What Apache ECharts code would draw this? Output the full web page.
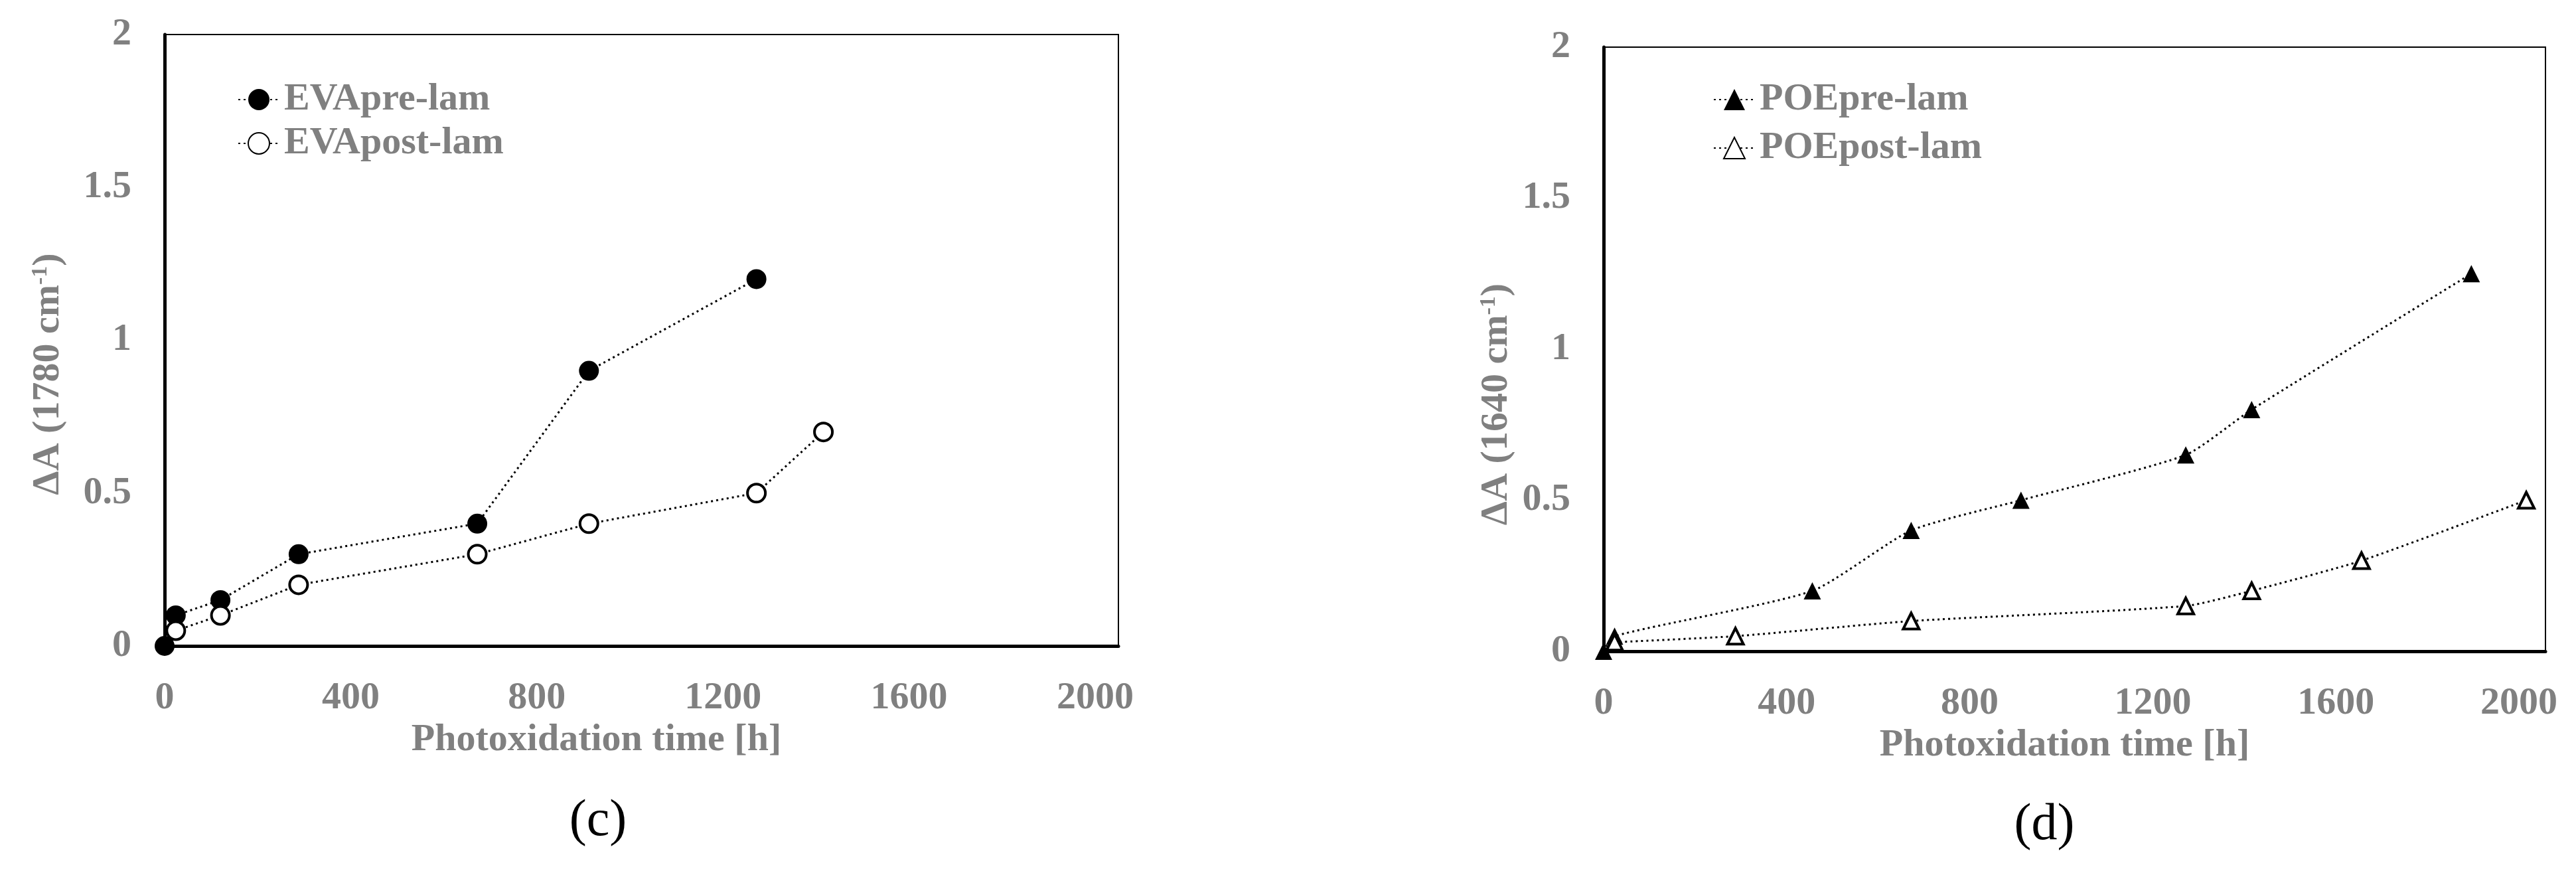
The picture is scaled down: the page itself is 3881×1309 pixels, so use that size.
<!DOCTYPE html>
<html>
<head>
<meta charset="utf-8">
<script src="https://cdn.jsdelivr.net/npm/echarts@6/dist/echarts.min.js"></script>
<style>
  html, body { margin: 0; padding: 0; background: #fff; }
  #main { width: 3881px; height: 1309px; }
</style>
</head>
<body>
<div id="main"></div>
<script>
// EVA (c)
var evaPreTime = [0, 24, 120, 288, 672, 912, 1272];
var evaPreDA = [0, 0.1, 0.15, 0.3, 0.4, 0.9, 1.2];
var evaPostTime = [24, 120, 288, 672, 912, 1272, 1416];
var evaPostDA = [0.05, 0.1, 0.2, 0.3, 0.4, 0.5, 0.7];
// POE (d)
var poePreTime = [0, 24, 456, 672, 912, 1272, 1416, 1896];
var poePreDA = [0, 0.05, 0.2, 0.4, 0.5, 0.65, 0.8, 1.25];
var poePostTime = [24, 288, 672, 1272, 1416, 1656, 2016];
var poePostDA = [0.03, 0.05, 0.1, 0.15, 0.2, 0.3, 0.5];

var yTicks = ['0', '0.5', '1', '1.5', '2'];

function pairs(xs, ys) {
    return xs.map(function (x, i) { return [x, ys[i]]; });
}

var grey = '#808080';
var font = 'Liberation Serif';
var labelStyle = { color: grey, fontFamily: font, fontWeight: 'bold', fontSize: 58 };
var dots = { color: '#000', width: 3, type: [3, 5] };

function xAxisFor(grid, max, nameGap, shift) {
    return {
        type: 'value', gridIndex: grid, min: 0, max: max, interval: 400,
        name: 'Photoxidation time [h]', nameLocation: 'middle', nameGap: nameGap,
        nameTextStyle: { color: grey, fontFamily: font, fontWeight: 'bold', fontSize: 58, padding: [0, shift, 0, 0] },
        axisLine: { show: true, lineStyle: { color: '#bfbfbf', width: 3 } },
        axisTick: { show: false },
        splitLine: { show: false },
        axisLabel: Object.assign({
            margin: 50, showMaxLabel: false,
            formatter: function (v) { return String(v); }
        }, labelStyle)
    };
}

function yAxisFor(grid, wave, nameGap, shift) {
    return {
        type: 'value', gridIndex: grid, min: 0, max: 2, interval: 0.5,
        name: 'ΔA (' + wave + ' cm{sup|-1})', nameLocation: 'middle', nameRotate: 90, nameGap: nameGap,
        nameTextStyle: {
            color: grey, fontFamily: font, fontWeight: 'bold', fontSize: 58, padding: [0, shift, 0, 0],
            rich: { sup: { color: grey, fontFamily: font, fontWeight: 'bold', fontSize: 34, verticalAlign: 'top', padding: [0, 0, 24, 0] } }
        },
        axisLine: { show: true, lineStyle: { color: '#bfbfbf', width: 3 } },
        axisTick: { show: false },
        splitLine: { show: false },
        axisLabel: Object.assign({
            margin: 50,
            formatter: function (v) { return yTicks[Math.round(v / 0.5)]; }
        }, labelStyle)
    };
}

function frameX(grid, max) {
    return { type: 'value', gridIndex: grid, position: 'top', min: 0, max: max,
        axisLine: { show: true, lineStyle: { color: '#000', width: 5 } },
        axisTick: { show: false }, axisLabel: { show: false }, splitLine: { show: false } };
}
function frameY(grid) {
    return { type: 'value', gridIndex: grid, position: 'right', min: 0, max: 2,
        axisLine: { show: true, lineStyle: { color: '#000', width: 5 } },
        axisTick: { show: false }, axisLabel: { show: false }, splitLine: { show: false } };
}

function legendFor(names, left, gap) {
    return {
        data: names, orient: 'vertical', left: left, top: 116, itemGap: gap,
        itemWidth: 62, itemHeight: 40, selectedMode: false,
        textStyle: { color: grey, fontFamily: font, fontWeight: 'bold', fontSize: 58, padding: [0, 0, 0, 2] }
    };
}

var filled = { color: '#000' };
var hollow = { color: '#fff', borderColor: '#000', borderWidth: 4 };

var myChart = echarts.init(document.getElementById('main'));
var option = {
    animation: false,
    backgroundColor: '#fff',
    grid: [
        { left: 248, top: 52, width: 1437, height: 921, show: true, borderColor: '#000', borderWidth: 2 },
        { left: 2416, top: 71, width: 1419, height: 910, show: true, borderColor: '#000', borderWidth: 2 }
    ],
    xAxis: [xAxisFor(0, 2050, 112, 136), xAxisFor(1, 2058, 102, 30), frameX(0, 2050), frameX(1, 2058)],
    yAxis: [yAxisFor(0, '1780', 146, 102), yAxisFor(1, '1640', 132, 166), frameY(0), frameY(1)],
    legend: [
        legendFor(['EVApre-lam', 'EVApost-lam'], 353, 8),
        legendFor(['POEpre-lam', 'POEpost-lam'], 2576, 15)
    ],
    series: [
        { name: 'EVApre-lam', type: 'line', xAxisIndex: 0, yAxisIndex: 0, data: pairs(evaPreTime, evaPreDA),
          symbol: 'circle', symbolSize: 30, itemStyle: filled, lineStyle: dots },
        { name: 'EVApost-lam', type: 'line', xAxisIndex: 0, yAxisIndex: 0, data: pairs(evaPostTime, evaPostDA),
          symbol: 'circle', symbolSize: 27, itemStyle: hollow, lineStyle: dots },
        { name: 'POEpre-lam', type: 'line', xAxisIndex: 1, yAxisIndex: 1, data: pairs(poePreTime, poePreDA),
          symbol: 'triangle', symbolSize: 26, itemStyle: filled, lineStyle: dots, smooth: 0.2 },
        { name: 'POEpost-lam', type: 'line', xAxisIndex: 1, yAxisIndex: 1, data: pairs(poePostTime, poePostDA),
          symbol: 'triangle', symbolSize: 24, itemStyle: hollow, lineStyle: dots, smooth: 0.2 }
    ],
    graphic: [
        { type: 'text', x: 901, y: 1238, style: { text: '(c)', fill: '#000', font: '78px "Liberation Serif"', textAlign: 'center', textVerticalAlign: 'middle' } },
        { type: 'text', x: 3080, y: 1244, style: { text: '(d)', fill: '#000', font: '78px "Liberation Serif"', textAlign: 'center', textVerticalAlign: 'middle' } }
    ]
};
myChart.setOption(option, true);
</script>
</body>
</html>
